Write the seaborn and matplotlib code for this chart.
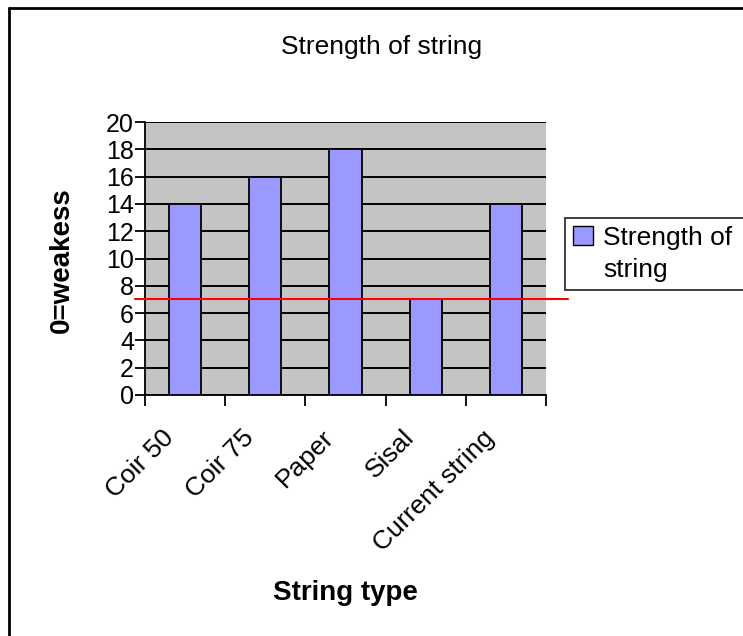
import matplotlib
matplotlib.use("Agg")
import matplotlib.pyplot as plt
import matplotlib.transforms as mtransforms
import seaborn as sns
import pandas as pd
from matplotlib.patches import Patch
from matplotlib.lines import Line2D

categories = ["Coir 50", "Coir 75", "Paper", "Sisal", "Current string"]
strength = [14, 16, 18, 7, 14]
yticks = [0, 2, 4, 6, 8, 10, 12, 14, 16, 18, 20]
threshold = 7
title = "Strength of string"
series_lines = ["Strength of", "string"]

df = pd.DataFrame({"String type": categories, "Strength": strength})

sns.set_style("white")
plt.rcParams["font.family"] = ["Liberation Sans", "DejaVu Sans"]
plt.rcParams["text.color"] = "black"
plt.rcParams["axes.labelcolor"] = "black"
plt.rcParams["xtick.color"] = "black"
plt.rcParams["ytick.color"] = "black"

fig = plt.figure(figsize=(7.43, 6.36), dpi=100)
fig.patch.set_facecolor("white")
ax = fig.add_axes([145/743, 1-395/636, (546-145)/743, (395-122)/636])
ax.set_facecolor("#c4c4c4")

sns.barplot(data=df, x="String type", y="Strength", color="#9999ff",
            saturation=1, width=0.4, edgecolor="black", linewidth=1.3, ax=ax, zorder=3)

ax.set_ylim(0, 20)
ax.set_xlim(-0.5, len(categories)-0.5)
ax.set_yticks(yticks)
ax.set_yticklabels([str(v) for v in yticks], fontsize=18)
ax.yaxis.grid(True, color="black", linewidth=1.4, zorder=0)
ax.set_axisbelow(True)
for s in ["top", "right"]:
    ax.spines[s].set_visible(False)
for s in ["left", "bottom"]:
    ax.spines[s].set_color("black")
    ax.spines[s].set_linewidth(1.3)

# category boundary ticks
ax.set_xticks([i + 0.5 for i in range(-1, len(categories))], minor=True)
ax.set_xticks(range(len(categories)))
ax.tick_params(axis="x", which="minor", length=8, width=1.3, color="black", direction="out", bottom=True)
ax.tick_params(axis="x", which="major", length=0, pad=22)
ax.tick_params(axis="y", length=7, width=1.3, color="black", direction="out", left=True, pad=1)
ax.set_xticklabels(categories, rotation=45, ha="right", rotation_mode="anchor", fontsize=19)
offset = mtransforms.ScaledTranslation(-24/100, 0, fig.dpi_scale_trans)
for lbl in ax.get_xticklabels():
    lbl.set_transform(lbl.get_transform() + offset)

ax.set_xlabel("String type", fontsize=20, fontweight="bold")
ax.xaxis.label.set_va("center")
ax.xaxis.set_label_coords(0.5, (395-593)/273)
ax.set_ylabel("0=weakess", fontsize=20, fontweight="bold")
ax.yaxis.label.set_va("center")
ax.yaxis.set_label_coords((62-145)/401, (395-260)/273)

# red threshold line extending past the plot area
ax.plot([-0.625, 4.77], [threshold, threshold], color="red", linewidth=1.5,
        clip_on=False, zorder=4)

fig.text(382/743, 1-47/636, title, ha="center", va="center", fontsize=19)

handles = [Patch(facecolor="#9999ff", edgecolor="black", label=series_lines[0]),
           Patch(facecolor="none", edgecolor="none", label=series_lines[1])]
leg = fig.legend(handles=handles,
                 loc="upper left", bbox_to_anchor=(565/743, 1-297/636, 0.3, 79/636),
                 mode="expand", frameon=True, fancybox=False, fontsize=19,
                 handlelength=0.75, handleheight=0.75, handletextpad=0.4,
                 borderpad=0.3, borderaxespad=0, labelspacing=0.3)
leg.get_frame().set_edgecolor("black")
leg.get_frame().set_linewidth(1.3)

# outer chart border: only left and top edges visible in the crop
fig.add_artist(Line2D([9/743, 9/743], [0, 1-8/636], transform=fig.transFigure,
                      color="black", linewidth=2))
fig.add_artist(Line2D([9/743, 1], [1-8/636, 1-8/636], transform=fig.transFigure,
                      color="black", linewidth=2))

fig.savefig("out.png", dpi=100)
